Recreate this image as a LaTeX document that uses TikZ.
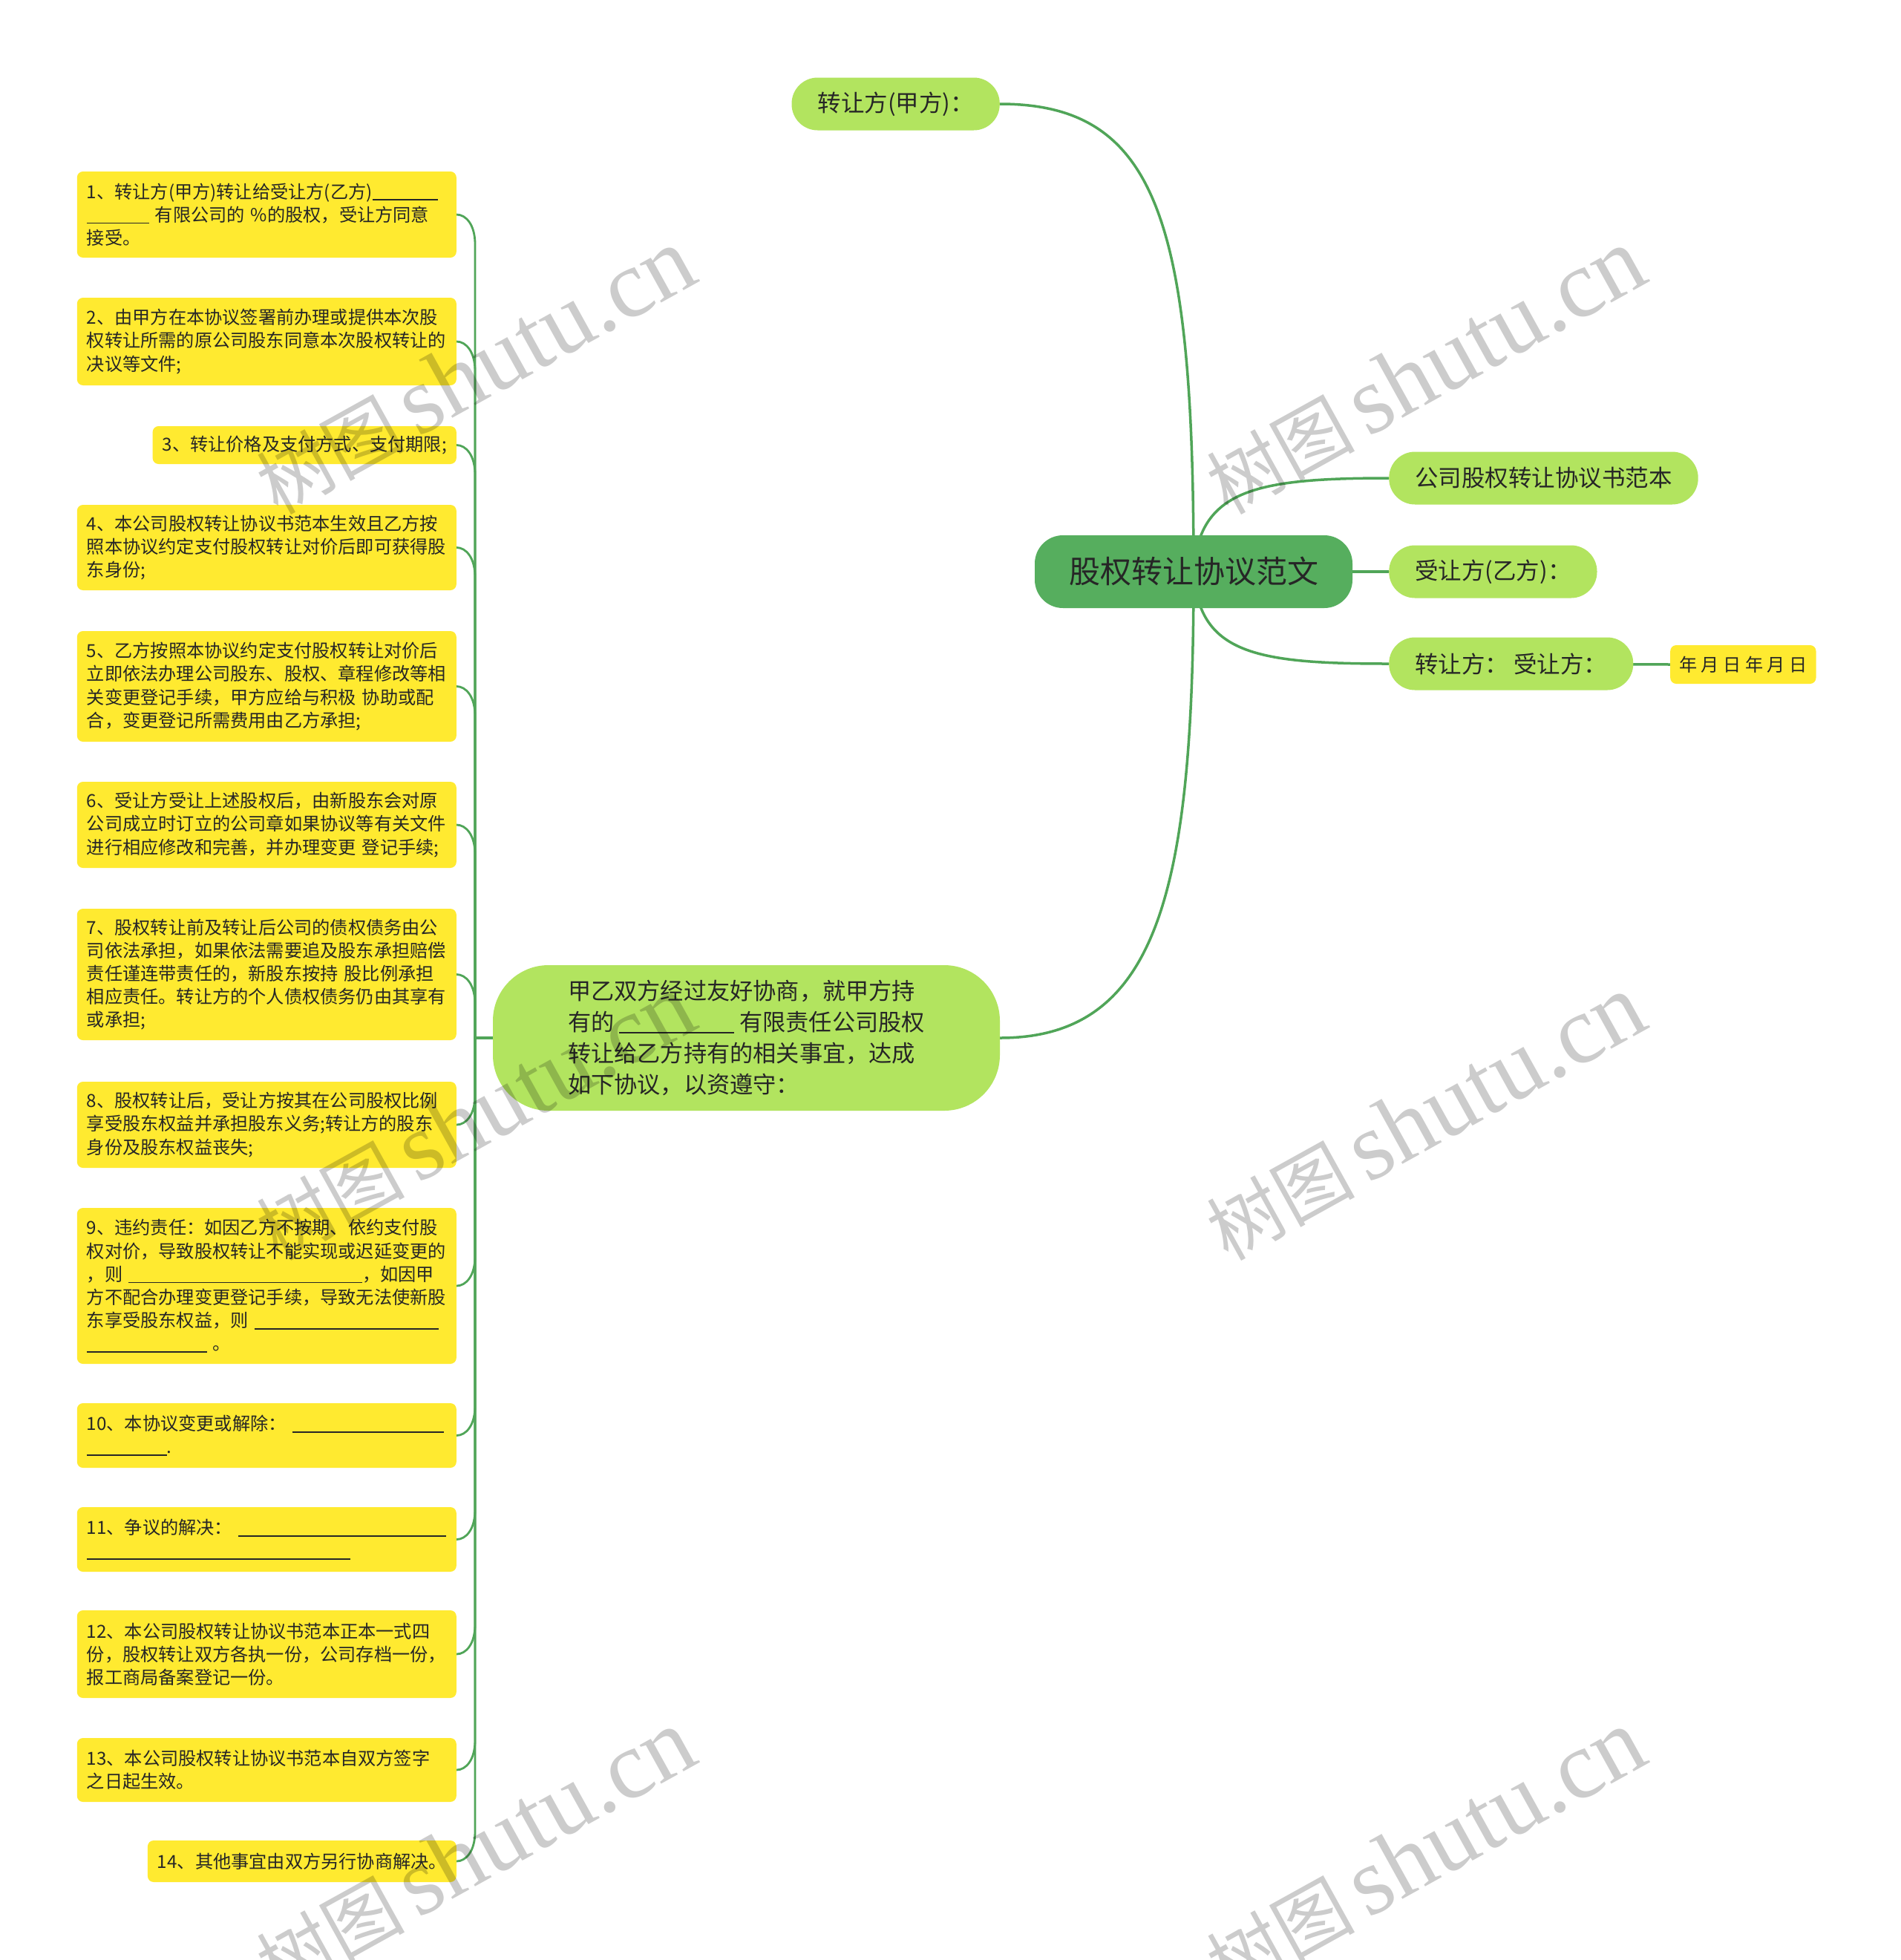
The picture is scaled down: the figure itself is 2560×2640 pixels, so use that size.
\documentclass[tikz,border=0pt]{standalone}
\usepackage{fontspec}
\setmainfont{Noto Sans CJK SC}
\newfontfamily\wmserif{Liberation Serif}
\definecolor{rootcol}{RGB}{86,174,94}
\definecolor{subcol}{RGB}{178,228,95}
\definecolor{ycol}{RGB}{255,234,48}
\definecolor{linecol}{RGB}{80,165,88}
\definecolor{txtcol}{RGB}{38,38,38}
\newcommand\blank[1]{\rule[-0.12em]{#1pt}{0.065em}}
\pgfdeclarelayer{edges}
\pgfsetlayers{edges,main}
\begin{document}
\begin{tikzpicture}[x=1pt,y=-1pt,
  rootbox/.style={fill=rootcol, rounded corners=38pt, text=txtcol, font=\fontsize{42}{50}\selectfont, minimum width=428pt, minimum height=98pt, inner sep=0pt},
  subbox/.style={fill=subcol, rounded corners=35pt, text=txtcol, font=\fontsize{31.5}{42}\selectfont, minimum height=71pt, inner xsep=35pt, inner ysep=0pt},
  bigbox/.style={fill=subcol, rounded corners=75pt, text=txtcol, font=\fontsize{31.2}{42}\selectfont, align=left, minimum width=683pt, minimum height=196pt},
  ybox/.style={fill=ycol, rounded corners=8pt, text=txtcol, font=\fontsize{24.2}{31.2}\selectfont, inner xsep=13pt, inner ysep=4pt, anchor=east},
  ywide/.style={ybox, text width=485pt, align=left},
  conn/.style={draw=linecol, line width=3.5pt},
  lconn/.style={draw=linecol, line width=2.8pt},
  wm/.style={text=black, text opacity=0.2, rotate=29, inner sep=0pt}
]
\begin{pgfonlayer}{edges}
\fill[white] (0,0) rectangle (2560,2640);
\end{pgfonlayer}
\useasboundingbox (0,0) rectangle (2560,2640);

% root and right side
\node[rootbox] (root) at (1608,770) {股权转让协议范文};
\node[subbox, anchor=east] (a1) at (1347,140) {转让方(甲方)：};
\node[subbox, anchor=west] (a2) at (1871,644) {公司股权转让协议书范本};
\node[subbox, anchor=west] (a3) at (1871,770) {受让方(乙方)：};
\node[subbox, anchor=west] (a4) at (1871,894) {转让方：~受让方：};
\node[ybox, anchor=west, inner xsep=12pt, minimum height=52pt] (dt) at (2250,895) {年 月 日 年 月 日};

% big node
\node[bigbox] (big) at (1005.5,1398) {甲乙双方经过友好协商，就甲方持\\有的~\blank{155}~有限责任公司股权\\转让给乙方持有的相关事宜，达成\\如下协议，以资遵守：};

% left items
\node[ywide, minimum height=116pt] (c1) at (615,289) {1、转让方(甲方)转让给受让方(乙方)\blank{88}\\\blank{84}~有限公司的~\%的股权，受让方同意\\接受。};
\node[ywide, minimum height=118pt] (c2) at (615,460) {2、由甲方在本协议签署前办理或提供本次股\\权转让所需的原公司股东同意本次股权转让的\\决议等文件;};
\node[ybox, minimum height=51pt] (c3) at (615,599.5) {3、转让价格及支付方式、支付期限;};
\node[ywide, minimum height=115pt] (c4) at (615,737.5) {4、本公司股权转让协议书范本生效且乙方按\\照本协议约定支付股权转让对价后即可获得股\\东身份;};
\node[ywide, minimum height=149pt] (c5) at (615,924.5) {5、乙方按照本协议约定支付股权转让对价后\\立即依法办理公司股东、股权、章程修改等相\\关变更登记手续，甲方应给与积极~协助或配\\合，变更登记所需费用由乙方承担;};
\node[ywide, minimum height=116pt] (c6) at (615,1111) {6、受让方受让上述股权后，由新股东会对原\\公司成立时订立的公司章如果协议等有关文件\\进行相应修改和完善，并办理变更~登记手续;};
\node[ywide, minimum height=177pt] (c7) at (615,1312.5) {7、股权转让前及转让后公司的债权债务由公\\司依法承担，如果依法需要追及股东承担赔偿\\责任谨连带责任的，新股东按持~股比例承担\\相应责任。转让方的个人债权债务仍由其享有\\或承担;};
\node[ywide, minimum height=116pt] (c8) at (615,1515) {8、股权转让后，受让方按其在公司股权比例\\享受股东权益并承担股东义务;转让方的股东\\身份及股东权益丧失;};
\node[ywide, minimum height=210pt] (c9) at (615,1732) {9、违约责任：如因乙方不按期、依约支付股\\权对价，导致股权转让不能实现或迟延变更的\\，则~\blank{315}，如因甲\\方不配合办理变更登记手续，导致无法使新股\\东享受股东权益，则~\blank{248}\\\blank{162}~。};
\node[ywide, minimum height=87pt] (c10) at (615,1933.5) {10、本协议变更或解除：~\blank{204}\\\blank{108}.};
\node[ywide, minimum height=87pt] (c11) at (615,2073.5) {11、争议的解决：~\blank{280}\\\blank{355}};
\node[ywide, minimum height=118pt] (c12) at (615,2228) {12、本公司股权转让协议书范本正本一式四\\份，股权转让双方各执一份，公司存档一份，\\报工商局备案登记一份。};
\node[ywide, minimum height=86pt] (c13) at (615,2384) {13、本公司股权转让协议书范本自双方签字\\之日起生效。};
\node[ybox, minimum height=56pt] (c14) at (615,2507) {14、其他事宜由双方另行协商解决。};

% connectors
\begin{pgfonlayer}{edges}
\draw[conn] (root.center) .. controls (1608,300) and (1560,140) .. (a1.east);
\draw[conn] (root.center) .. controls (1615,660) and (1690,644) .. (a2.west);
\draw[conn] (root.center) -- (a3.west);
\draw[conn] (root.center) .. controls (1615,880) and (1690,894) .. (a4.west);
\draw[conn] (a4.center) -- (dt.west);
\draw[conn] (root.center) .. controls (1608,1200) and (1560,1398) .. (big.east);
\foreach \n/\yc in {c1/289, c2/460, c3/599.5, c4/737.5, c5/924.5, c6/1111, c7/1312.5, c8/1515, c9/1732, c10/1933.5, c11/2073.5, c12/2228, c13/2384, c14/2507}{
  \pgfmathsetmacro\s{\yc<1398 ? 1 : -1}
  \draw[lconn] (big.center) -- (640,1398) -- (640,{\yc+40*\s}) .. controls (640,{\yc+14*\s}) and (628,\yc) .. (\n.east);
}
\end{pgfonlayer}

% watermarks
\foreach \wx/\wy [count=\i] in {640/500, 1920/500, 640/1505, 1920/1505, 640/2495, 1920/2495}{
  \node[wm] (wm\i) at (\wx,\wy) {\fontsize{100}{100}\selectfont 树图\,{\wmserif\fontsize{130}{130}\selectfont shutu.cn}};
}
\end{tikzpicture}
\end{document}
